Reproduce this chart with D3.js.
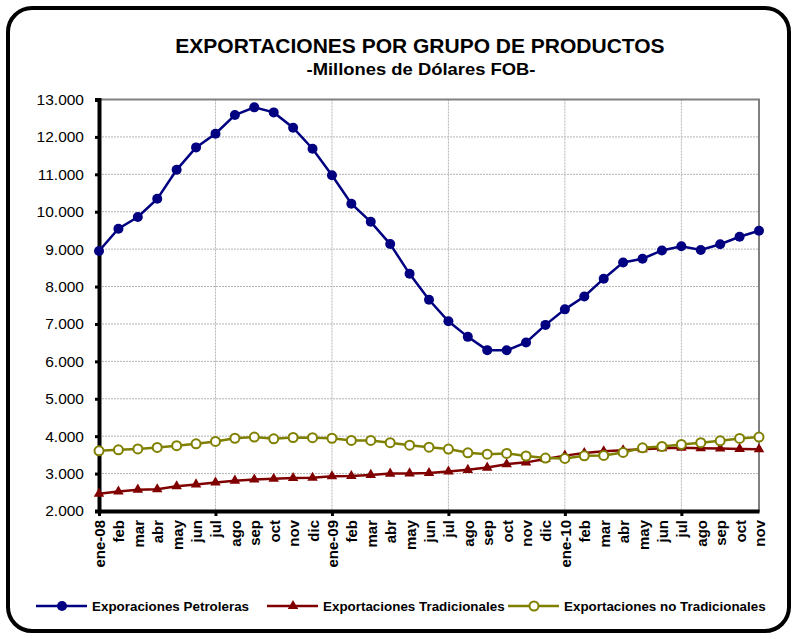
<!DOCTYPE html>
<html>
<head>
<meta charset="utf-8">
<script src="https://cdn.jsdelivr.net/npm/d3@7.9.0/dist/d3.min.js"></script>
<style>
    html, body { margin: 0; padding: 0; background: #fff; }
    svg { display: block; font-family: "Liberation Sans", Arial, sans-serif; }
</style>
</head>
<body>
<svg id="chart" width="797" height="639"></svg>
<script>
"use strict";

const MONTHS = [
    "ene-08", "feb", "mar", "abr", "may", "jun", "jul", "ago", "sep", "oct", "nov", "dic",
    "ene-09", "feb", "mar", "abr", "may", "jun", "jul", "ago", "sep", "oct", "nov", "dic",
    "ene-10", "feb", "mar", "abr", "may", "jun", "jul", "ago", "sep", "oct", "nov",
];

const PETROLERAS = [
    8950, 9545, 9860, 10345, 11120, 11720, 12085, 12585, 12790, 12655, 12245, 11685,
    10975, 10215, 9730, 9135, 8340, 7645, 7070, 6655, 6300, 6295, 6505, 6975,
    7390, 7735, 8210, 8645, 8745, 8965, 9075, 8975, 9130, 9330, 9490,
];

const TRADICIONALES = [
    2460, 2520, 2570, 2580, 2660, 2710, 2760, 2810, 2840, 2860, 2880, 2890,
    2930, 2935, 2965, 3000, 3005, 3015, 3055, 3100, 3160, 3250, 3300, 3390,
    3480, 3550, 3595, 3625, 3650, 3680, 3690, 3680, 3670, 3660, 3650,
];

const NO_TRADICIONALES = [
    3610, 3635, 3660, 3700, 3745, 3795, 3860, 3945, 3975, 3930, 3965, 3960,
    3945, 3885, 3885, 3825, 3760, 3705, 3655, 3555, 3520, 3540, 3470, 3415,
    3405, 3475, 3485, 3565, 3690, 3725, 3780, 3825, 3875, 3940, 3975,
];

const Y_TICKS = [2000, 3000, 4000, 5000, 6000, 7000, 8000, 9000, 10000, 11000, 12000, 13000];

const SERIES = [
    { name: "Exporaciones Petroleras", values: PETROLERAS, color: "#000080", marker: "dot" },
    { name: "Exportaciones Tradicionales", values: TRADICIONALES, color: "#800000", marker: "triangle" },
    { name: "Exportaciones no Tradicionales", values: NO_TRADICIONALES, color: "#808000", marker: "ring" },
];

const svg = d3.select("#chart");

// Outer rounded frame
svg.append("rect")
    .attr("x", 8).attr("y", 8)
    .attr("width", 781).attr("height", 623)
    .attr("rx", 24).attr("ry", 24)
    .attr("fill", "#fff")
    .attr("stroke", "#000")
    .attr("stroke-width", 4);

// Titles
svg.append("text")
    .attr("x", 420).attr("y", 53)
    .attr("text-anchor", "middle")
    .attr("font-size", 21).attr("font-weight", "bold")
    .text("EXPORTACIONES POR GRUPO DE PRODUCTOS");

svg.append("text")
    .attr("x", 421).attr("y", 75)
    .attr("text-anchor", "middle")
    .attr("font-size", 17).attr("font-weight", "bold")
    .attr("textLength", 229).attr("lengthAdjust", "spacingAndGlyphs")
    .text("-Millones de Dólares FOB-");

const plot = { left: 99, right: 759, top: 99.5, bottom: 511 };

const x = d3.scaleLinear().domain([0, MONTHS.length - 1]).range([plot.left, plot.right]);
const y = d3.scaleLinear().domain([2000, 13000]).range([plot.bottom, plot.top]);

const fmt = d3.formatLocale({ decimal: ",", thousands: ".", grouping: [3], currency: ["", ""] }).format(",d");

// Grid lines
const grid = svg.append("g").attr("stroke", "#b4b4b4").attr("stroke-width", 1).attr("stroke-dasharray", "2,1");
grid.selectAll("none")
    .data(Y_TICKS.slice(1, -1))
    .join("line")
    .attr("x1", plot.left).attr("x2", plot.right)
    .attr("y1", (d) => y(d)).attr("y2", (d) => y(d));

grid.selectAll("none")
    .data(d3.range(6, MONTHS.length, 6))
    .join("line")
    .attr("x1", (d) => x(d)).attr("x2", (d) => x(d))
    .attr("y1", plot.top).attr("y2", plot.bottom);

// Plot area border (top / right)
svg.append("rect")
    .attr("x", plot.left).attr("y", plot.top)
    .attr("width", plot.right - plot.left).attr("height", plot.bottom - plot.top)
    .attr("fill", "none")
    .attr("stroke", "#808080")
    .attr("stroke-width", 2);

// Y axis
const y_axis = svg.append("g")
    .attr("transform", `translate(${plot.left},0)`)
    .call(d3.axisLeft(y).tickValues(Y_TICKS).tickFormat(fmt).tickSize(4).tickPadding(11));
y_axis.select(".domain").attr("stroke", "#000").attr("stroke-width", 4);
y_axis.selectAll(".tick line").attr("stroke", "#000").attr("stroke-width", 3);
y_axis.selectAll(".tick text")
    .attr("font-size", 15.5)
    .attr("font-family", "Liberation Sans, Arial, sans-serif")
    .attr("fill", "#000");

// X axis
const x_axis = svg.append("g")
    .attr("transform", `translate(0,${plot.bottom})`)
    .call(d3.axisBottom(x).tickValues(d3.range(MONTHS.length)).tickFormat((i) => MONTHS[i]).tickSize(0).tickSizeOuter(0));
x_axis.select(".domain").attr("stroke", "#000").attr("stroke-width", 4);
x_axis.selectAll(".tick")
    .filter((d) => d % 6 === 0)
    .append("line")
    .attr("y2", 5)
    .attr("stroke", "#000")
    .attr("stroke-width", 3);
x_axis.selectAll(".tick text")
    .attr("font-size", 15)
    .attr("font-weight", "bold")
    .attr("font-family", "Liberation Sans, Arial, sans-serif")
    .attr("fill", "#000")
    .attr("text-anchor", "end")
    .attr("dy", null)
    .attr("y", null)
    .attr("transform", "translate(5.5,9) rotate(-90)");

// Lines and markers
const line = d3.line().x((d, i) => x(i)).y((d) => y(d));

const tri = d3.symbol().type(d3.symbolTriangle).size(48);

function draw_marker(sel, s) {
    if (s.marker === "dot") {
        sel.append("circle").attr("r", 5).attr("fill", s.color);
    } else if (s.marker === "ring") {
        sel.append("circle").attr("r", 4.5).attr("fill", "#fff").attr("stroke", s.color).attr("stroke-width", 2);
    } else {
        sel.append("path").attr("d", tri).attr("fill", s.color);
    }
}

for (const s of SERIES) {
    const g = svg.append("g");
    g.append("path")
        .attr("d", line(s.values))
        .attr("fill", "none")
        .attr("stroke", s.color)
        .attr("stroke-width", 2.5);

    g.selectAll("none")
        .data(s.values)
        .join("g")
        .attr("transform", (d, i) => `translate(${x(i)},${y(d)})`)
        .each(function () { draw_marker(d3.select(this), s); });
}

// Legend
const LEGEND_X = [36, 267, 508];
const legend = svg.append("g").attr("transform", "translate(0,606)");
legend.selectAll("none")
    .data(SERIES)
    .join("g")
    .attr("transform", (d, i) => `translate(${LEGEND_X[i]},0)`)
    .each(function (s) {
        const g = d3.select(this);
        g.append("line")
            .attr("x1", 0).attr("x2", 51)
            .attr("stroke", s.color).attr("stroke-width", 2.5);
        draw_marker(g.append("g").attr("transform", "translate(26,0)"), s);
        g.append("text")
            .attr("x", 56).attr("y", 5)
            .attr("font-size", 13.4).attr("font-weight", "bold")
            .text(s.name);
    });
</script>
</body>
</html>
